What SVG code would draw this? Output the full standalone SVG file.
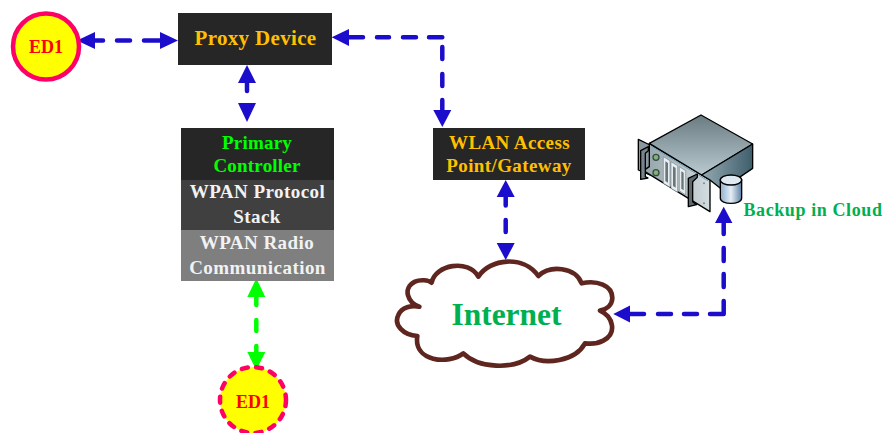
<svg xmlns="http://www.w3.org/2000/svg" width="883" height="433" viewBox="0 0 883 433">
<style>
text{font-family:"Liberation Serif","Times New Roman",serif;font-weight:bold;text-anchor:middle}
.c{fill:none;stroke:#1c0ccc;stroke-width:4.5;stroke-linecap:round;stroke-linejoin:round}
.g{stroke:#00ff00}
.w{fill:#f2f2f2;font-size:19px;letter-spacing:.45px}
.o{fill:#ffc000;font-size:19px;letter-spacing:.4px}
.ed{fill:#ff0000;font-size:18px}
.b{fill:#1c0ccc}
.gh{fill:#00ff00}
.s{stroke:#000;stroke-width:4;stroke-linejoin:round}
</style>
<defs>
<linearGradient id="top" x1="0" y1="0" x2="0" y2="1"><stop offset="0" stop-color="#6a7c82"/><stop offset="1" stop-color="#b8cad0"/></linearGradient>
<linearGradient id="right" x1="0" y1="0" x2="1" y2="0"><stop offset="0" stop-color="#94a9b1"/><stop offset="1" stop-color="#3f5e6c"/></linearGradient>
<linearGradient id="front" x1="0" y1="0" x2="1" y2="0"><stop offset="0" stop-color="#93a3a9"/><stop offset="1" stop-color="#d3dcdf"/></linearGradient>
<linearGradient id="cyl" x1="0" y1="0" x2="1" y2="0"><stop offset="0" stop-color="#8fb0d0"/><stop offset=".5" stop-color="#e4eef6"/><stop offset="1" stop-color="#5e82a6"/></linearGradient>
</defs>
<g id="connectors">
<path class="c" d="M93 40.500H103M117 40.500H130M144 40.500H162"/>
<path d="M77 40.500L95 32V49Z" class="b"/><path d="M178 40.500L160 32V49Z" class="b"/>
<path class="c" d="M247 81V91"/>
<path d="M247 65L238 83H256Z" class="b"/><path d="M247 122L238 103H256Z" class="b"/>
<path class="c" d="M347 37.300H363M377 37.300H389M403 37.300H416M429 37.300H442.300V37.300M442.300 47V59M442.300 74V86M442.300 100V112"/>
<path d="M331.700 37.300L349 29V46Z" class="b"/><path d="M442.300 127L433.300 110H451.300Z" class="b"/>
<path class="c" d="M505.700 195V205.500M505.700 220V232M505.700 245.500V248"/>
<path d="M505.700 180L496.700 197H514.700Z" class="b"/><path d="M505.700 260L496.700 243H514.700Z" class="b"/>
<path class="c" d="M628 314H644M658 314H671M684 314H697M710 314H723.700V301M723.700 287V274M723.700 261V248M723.700 234V220"/>
<path d="M613.300 314L630 305.500V322.500Z" class="b"/><path d="M723.700 206.700L715 223H732.400Z" class="b"/>
<path class="c g" d="M256.300 295V305M256.300 320V331M256.300 346V355"/>
<path d="M256.300 278.300L247.300 297H265.300Z" class="gh"/><path d="M256.300 370L247.300 352H265.300Z" class="gh"/>
</g>
<g id="ed1-top">
<circle cx="46" cy="46.500" r="33" fill="#ffff00" stroke="#ff0066" stroke-width="4.500"/>
<text class="ed" x="46" y="53">ED1</text>
</g>
<g id="proxy-device">
<rect x="178" y="13" width="154" height="52" fill="#262626"/>
<text x="255.500" y="45" font-size="21" letter-spacing=".33" fill="#ffc000">Proxy Device</text>
</g>
<g id="primary-controller">
<rect x="181" y="128" width="153" height="52" fill="#262626"/>
<text x="257" y="149" font-size="19" letter-spacing=".2" fill="#00ff00">Primary</text>
<text x="257" y="172" font-size="19" letter-spacing=".2" fill="#00ff00">Controller</text>
</g>
<g id="wpan-protocol-stack">
<rect x="181" y="180" width="153" height="50" fill="#404040"/>
<text class="w" x="257.500" y="198">WPAN Protocol</text>
<text class="w" x="257" y="223">Stack</text>
</g>
<g id="wpan-radio">
<rect x="181" y="230" width="153" height="51" fill="#7f7f7f"/>
<text class="w" x="257" y="249">WPAN Radio</text>
<text class="w" x="257.500" y="274">Communication</text>
</g>
<g id="wlan-gateway">
<rect x="433" y="128" width="152" height="52" fill="#262626"/>
<text class="o" x="509.500" y="149">WLAN Access</text>
<text class="o" x="509" y="172">Point/Gateway</text>
</g>
<g id="internet">
<path transform="translate(380 250) scale(.3333)" d="M118 170C85 160 65 115 105 95C120 88 145 90 155 98C165 45 265 25 295 80C330 25 430 15 475 78C510 45 585 50 605 100C650 90 698 105 697 145C696 165 680 178 660 182C700 200 712 250 670 272C655 280 630 282 615 280C585 335 495 345 450 320C400 360 295 355 250 310C205 345 100 335 112 258C70 255 40 225 55 195C65 172 95 165 118 170Z" fill="#fff" stroke="#5f2620" stroke-width="14" stroke-linejoin="round"/>
<text x="506.500" y="325" font-size="31.500" fill="#00b050">Internet</text>
</g>
<g id="backup-server">
<g transform="translate(620 100) scale(.3333)">
<path class="s" d="M55 118L90 135V225L55 210Z" fill="#8a989d"/>
<path class="s" d="M88 130L270 240V335L70 212L88 200Z" fill="url(#front)"/>
<path d="M95 140L265 243" stroke="#6fa3bd" stroke-width="3" fill="none"/>
<path class="s" d="M88 130L243 45L398 132L245 225Z" fill="url(#top)"/>
<path class="s" d="M398 132V205L305 268L270 240L245 225Z" fill="url(#right)"/>
<path class="s" d="M62 152L85 140V152L76 160V230L84 234L62 238Z" fill="#75858b"/>
<path class="s" d="M205 235L232 222V232L218 245V305L230 314L205 320Z" fill="#5d6b71"/>
<circle cx="108" cy="172" r="9" fill="#7fb27a" stroke="#3a4a42" stroke-width="4"/>
<circle cx="108" cy="218" r="9" fill="#7fb27a" stroke="#3a4a42" stroke-width="4"/>
<path d="M130 170L150 182V262L130 250ZM153 185L173 197V277L153 265ZM178 200L197 212V285L178 272Z" fill="#e8eef0" stroke="#7b8a90" stroke-width="2"/>
<path d="M136 184L144 189V248L136 243ZM159 199L167 204V263L159 258ZM184 214L191 218V271L184 266Z" fill="#6a767c"/>
<circle cx="252" cy="250" r="3" fill="#7b8a90"/><circle cx="252" cy="310" r="3" fill="#7b8a90"/>
<path d="M301 240V295C301 315 365 315 365 295V240Z" fill="url(#cyl)" stroke="#000" stroke-width="4"/>
<ellipse cx="333" cy="240" rx="32" ry="15" fill="#dfe9f2" stroke="#000" stroke-width="4"/>
</g>
</g>
<text x="813" y="216" font-size="18" letter-spacing=".6" fill="#00b050">Backup in Cloud</text>
<g id="ed1-bottom">
<circle cx="253" cy="400" r="33" fill="#ffff00" stroke="#ff0066" stroke-width="4.500" stroke-dasharray="6 8.400" stroke-linecap="round"/>
<text class="ed" x="253" y="408">ED1</text>
</g>
</svg>
